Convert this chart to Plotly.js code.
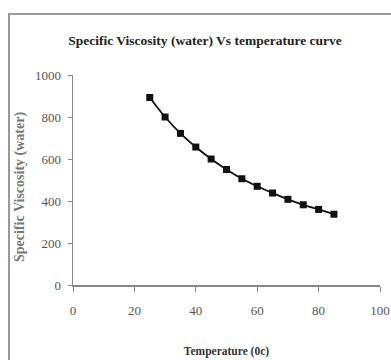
<!DOCTYPE html>
<html>
<head>
<meta charset="utf-8">
<script src="https://cdn.plot.ly/plotly-3.0.1.min.js"></script>
<style>
html,body{margin:0;padding:0;background:#fff;}
#chart{width:391px;height:360px;}
</style>
</head>
<body>
<div id="chart"></div>
<script>
const temperature = [25, 30, 35, 40, 45, 50, 55, 60, 65, 70, 75, 80, 85];
const viscosity = [893, 800, 722, 657, 600, 550, 506, 470, 438, 408, 382, 360, 337];
const xTicks = [0, 20, 40, 60, 80, 100];
const yTicks = [0, 200, 400, 600, 800, 1000];

const serif = '"Liberation Serif", "Times New Roman", serif';

const trace = {
  x: temperature,
  y: viscosity,
  type: 'scatter',
  mode: 'lines+markers',
  line: {color: '#111', width: 1.8, shape: 'spline'},
  marker: {symbol: 'square', size: 7, color: '#111'},
  hoverinfo: 'none'
};

const layout = {
  width: 391,
  height: 360,
  margin: {l: 73, r: 11, t: 75, b: 75},
  paper_bgcolor: '#fff',
  plot_bgcolor: '#fff',
  showlegend: false,
  font: {family: serif, color: '#555', size: 12},
  title: {
    text: '<b>Specific Viscosity (water) Vs temperature curve</b>',
    font: {family: serif, size: 13.5, color: '#222'},
    x: 205 / 391, xref: 'container', xanchor: 'center',
    y: 1 - 40 / 360, yref: 'container', yanchor: 'middle'
  },
  xaxis: {
    range: [0, 100],
    tickvals: xTicks,
    ticktext: xTicks.map(String),
    showgrid: false, zeroline: false,
    showline: true, linecolor: '#888', linewidth: 1.5,
    ticks: 'outside', ticklen: 5, tickcolor: '#888', tickwidth: 1,
    ticklabelstandoff: 8,
    tickfont: {family: serif, size: 13, color: '#555'},
    title: {text: '<b>Temperature (0c)</b>', font: {family: serif, size: 11.5, color: '#333'}, standoff: 30}
  },
  yaxis: {
    range: [0, 1000],
    tickvals: yTicks,
    ticktext: yTicks.map(String),
    showgrid: false, zeroline: false,
    showline: true, linecolor: '#888', linewidth: 1.5,
    ticks: 'outside', ticklen: 4, tickcolor: '#888', tickwidth: 1,
    ticklabelstandoff: 4,
    tickfont: {family: serif, size: 13, color: '#555'}
  },
  annotations: [{
    text: '<b>Specific Viscosity (water)</b>',
    xref: 'paper', yref: 'paper',
    x: (20 - 73) / 307, y: (285 - 187) / 210,
    xanchor: 'center', yanchor: 'middle',
    textangle: -90, showarrow: false,
    font: {family: serif, size: 14, color: '#777'}
  }],
  shapes: [{
    type: 'rect', xref: 'paper', yref: 'paper',
    x0: (9 - 73) / 307, x1: (400 - 73) / 307,
    y0: (285 - 370) / 210, y1: (285 - 14) / 210,
    line: {color: '#999', width: 2}, layer: 'below'
  }]
};

Plotly.newPlot('chart', [trace], layout, {staticPlot: true, displayModeBar: false});
</script>
</body>
</html>
